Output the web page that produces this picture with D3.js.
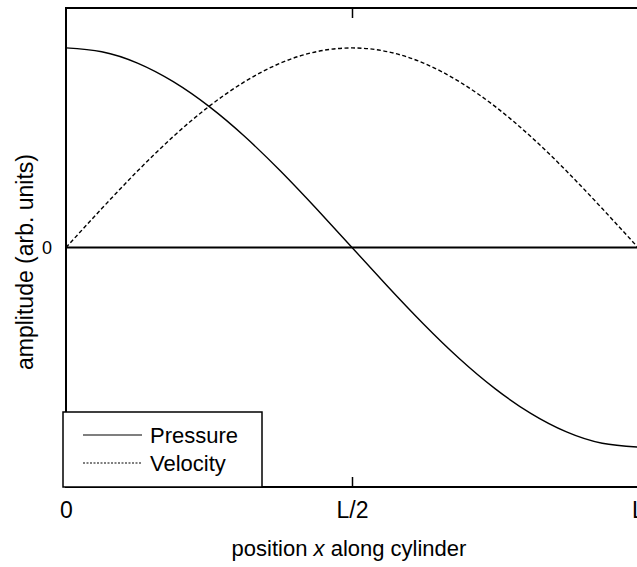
<!DOCTYPE html>
<html>
<head>
<meta charset="utf-8">
<script src="https://cdn.jsdelivr.net/npm/d3@7"></script>
<style>
  body { margin: 0; background: #fff; }
  text { font-family: "Liberation Sans", Arial, sans-serif; fill: #000; }
</style>
</head>
<body>
<div id="vis"></div>
<script>
// position along the cylinder, as a fraction of L
var positions = [0, 0.0625, 0.125, 0.1875, 0.25, 0.3125, 0.375, 0.4375, 0.5,
                 0.5625, 0.625, 0.6875, 0.75, 0.8125, 0.875, 0.9375, 1];
var pressure = [1, 0.981, 0.924, 0.831, 0.707, 0.556, 0.383, 0.195, 0,
                -0.195, -0.383, -0.556, -0.707, -0.831, -0.924, -0.981, -1];
var velocity = [0, 0.195, 0.383, 0.556, 0.707, 0.831, 0.924, 0.981, 1,
                0.981, 0.924, 0.831, 0.707, 0.556, 0.383, 0.195, 0];
var xTicks = [0, 0.5, 1];
var xTickLabels = ['0', 'L/2', 'L'];
var seriesNames = ['Pressure', 'Velocity'];

var width = 637;
var height = 567;
var margin = { top: 8, right: -1, bottom: 80, left: 66 };

var x = d3.scaleLinear()
  .domain([0, 1])
  .range([margin.left, width - margin.right]);

var y = d3.scaleLinear()
  .domain([-1.2, 1.2])
  .range([height - margin.bottom, margin.top]);

var svg = d3.select('#vis')
  .append('svg')
  .attr('width', width)
  .attr('height', height);

var line = d3.line()
  .x(function (d) { return x(d[0]); })
  .y(function (d) { return y(d[1]); })
  .curve(d3.curveNatural);

// zero line
svg.append('line')
  .attr('x1', x(0)).attr('x2', x(1))
  .attr('y1', y(0)).attr('y2', y(0))
  .attr('stroke', '#000')
  .attr('stroke-width', 2);

svg.append('path')
  .datum(d3.zip(positions, pressure))
  .attr('d', line)
  .attr('fill', 'none')
  .attr('stroke', '#000')
  .attr('stroke-width', 1.4);

svg.append('path')
  .datum(d3.zip(positions, velocity))
  .attr('d', line)
  .attr('fill', 'none')
  .attr('stroke', '#000')
  .attr('stroke-width', 1.4)
  .attr('stroke-dasharray', '4,2.5');

// axes: ticks point inward at top and bottom
var xAxisBottom = d3.axisBottom(x)
  .tickValues(xTicks)
  .tickSize(-10)
  .tickFormat(function (d, i) { return xTickLabels[i]; });

var gb = svg.append('g')
  .attr('transform', 'translate(0,' + y.range()[0] + ')')
  .call(xAxisBottom);
gb.select('.domain').remove();
gb.selectAll('.tick line').attr('stroke', '#000').attr('stroke-width', 1.5);
gb.selectAll('.tick text')
  .attr('y', 15)
  .attr('font-size', 23)
  .attr('font-family', '"Liberation Sans", Arial, sans-serif');

var xAxisTop = d3.axisTop(x)
  .tickValues([0.5])
  .tickSize(-10)
  .tickFormat('');

var gt = svg.append('g')
  .attr('transform', 'translate(0,' + y.range()[1] + ')')
  .call(xAxisTop);
gt.select('.domain').remove();
gt.selectAll('.tick line').attr('stroke', '#000').attr('stroke-width', 1.5);

var yAxis = d3.axisLeft(y)
  .tickValues([0])
  .tickSize(0)
  .tickPadding(14)
  .tickFormat(d3.format('d'));

var gy = svg.append('g')
  .attr('transform', 'translate(' + x(0) + ',0)')
  .call(yAxis);
gy.select('.domain').remove();
gy.selectAll('.tick text')
  .attr('font-size', 18)
  .attr('font-family', '"Liberation Sans", Arial, sans-serif');

// frame
svg.append('rect')
  .attr('x', x(0))
  .attr('y', y.range()[1])
  .attr('width', x(1) - x(0))
  .attr('height', y.range()[0] - y.range()[1])
  .attr('fill', 'none')
  .attr('stroke', '#000')
  .attr('stroke-width', 2);

// legend
var legend = svg.append('g').attr('class', 'legend');

legend.append('rect')
  .attr('x', 63)
  .attr('y', 412)
  .attr('width', 199)
  .attr('height', y.range()[0] - 412)
  .attr('fill', '#fff')
  .attr('stroke', '#000')
  .attr('stroke-width', 1.5);

var items = legend.selectAll('.item')
  .data(seriesNames)
  .enter().append('g')
  .attr('class', 'item')
  .attr('transform', function (d, i) { return 'translate(0,' + (435 + i * 28) + ')'; });

items.append('line')
  .attr('x1', 83).attr('x2', 142)
  .attr('y1', 0).attr('y2', 0)
  .attr('stroke', '#000')
  .attr('stroke-width', 1.2)
  .attr('stroke-dasharray', function (d, i) { return i === 1 ? '2,1.5' : null; });

items.append('text')
  .attr('x', 150)
  .attr('y', 8)
  .attr('font-size', 22)
  .text(function (d) { return d; });

// axis titles
var xTitle = svg.append('text')
  .attr('x', 349)
  .attr('y', 556)
  .attr('text-anchor', 'middle')
  .attr('font-size', 22);
xTitle.append('tspan').text('position ');
xTitle.append('tspan').attr('font-style', 'italic').text('x');
xTitle.append('tspan').text(' along cylinder');

svg.append('text')
  .attr('transform', 'translate(33,262) rotate(-90)')
  .attr('text-anchor', 'middle')
  .attr('font-size', 23)
  .text('amplitude (arb. units)');
</script>
</body>
</html>
